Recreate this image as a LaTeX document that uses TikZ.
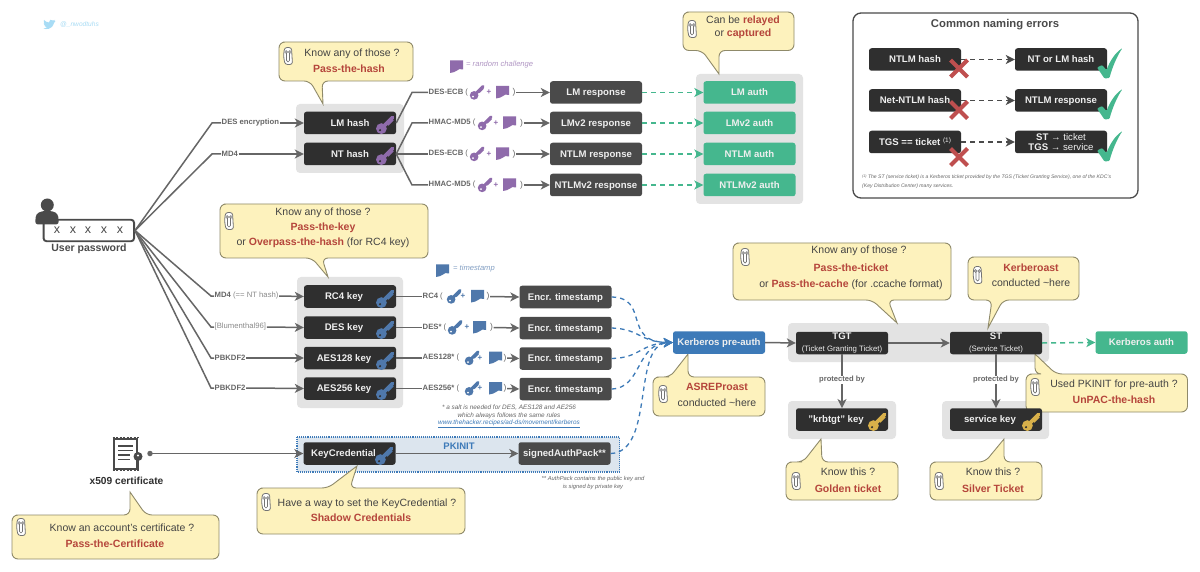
\documentclass[tikz,border=0pt]{standalone}
\usepackage{fontspec}
\setmainfont{Liberation Sans}
\usetikzlibrary{arrows.meta}
\definecolor{darkbox}{HTML}{2F2F2F}
\definecolor{respbox}{HTML}{4A4A4A}
\definecolor{panelg}{HTML}{E3E3E3}
\definecolor{linegray}{HTML}{666666}
\definecolor{bubfill}{HTML}{FDF2BD}
\definecolor{bubedge}{HTML}{8F8A6A}
\definecolor{redtx}{HTML}{B5453B}
\definecolor{bubtx}{HTML}{444444}
\definecolor{authgreen}{HTML}{45B78E}
\definecolor{krbblue}{HTML}{3D7AB8}
\definecolor{keyblue}{HTML}{4F78AB}
\definecolor{keypurple}{HTML}{8F6BAB}
\definecolor{keygold}{HTML}{D8B04A}
\definecolor{xred}{HTML}{BF4F4F}
\definecolor{lblgray}{HTML}{666666}
\definecolor{lbllight}{HTML}{8A8A8A}
\definecolor{boxtx}{HTML}{EFEFEF}
\definecolor{pkpanel}{HTML}{DCE5EE}
\definecolor{twblue}{HTML}{A8DCF5}
\newcommand{\fsz}[1]{\fontsize{#1}{#1}\selectfont}
\newcommand{\rd}[1]{{\color{redtx}\bfseries #1}}
\newcommand{\keyicon}[5]{\begin{scope}[shift={(#1,#2)},scale=#3]
  \draw[#4,line width=#3*3.8pt,line cap=round] (-3,3) -- (7.5,-7.5);
  \draw[#4,line width=#3*2.6pt] (2.4,-0.2) -- (7.8,-5.6);
  \fill[#4] (-3.6,3.6) circle[radius=5.4];
  \fill[#5] (-5,5.2) circle[radius=1.2];
\end{scope}}
\newcommand{\sqicon}[3]{\begin{scope}[shift={(#1,#2)}]
  \fill[#3] (0,0) -- (13,0) -- (13,9) .. controls (10,8) and (8.5,8.6) .. (7,10) .. controls (5.5,11.5) and (3,12) .. (0,12.5) -- cycle;
\end{scope}}
\newcommand{\clipicon}[2]{\begin{scope}[shift={(#1,#2)}]
  \draw[fill=white,draw=gray!90!black,line width=.8pt,rounded corners=2.5] (-3.5,-8.5) -- (3.5,-8.5) -- (4.5,8.5) -- (-3,8.5) -- (-4.5,0) -- cycle;
  \draw[gray!90!black,line width=.7pt,rounded corners=1.5] (-1.5,-3) -- (-1.5,6) -- (1.5,6) -- (1.5,-3);
  \fill[white,draw=gray!70!black,line width=.4pt] (-1.8,-4) circle[radius=1.5] (1.8,-4) circle[radius=1.5];
  \fill[black!70] (-1.8,-4) circle[radius=.6] (1.8,-4) circle[radius=.6];
\end{scope}}
\newcommand{\bubdown}[8]{\draw[bubble,rounded corners=6] (#1+10,#2) -- (#3,#2) -- (#3,#4) -- (#8,#4) [sharp corners] -- (#6,#7) [rounded corners=6] -- (#5,#4) -- (#1,#4) -- (#1,#2) -- cycle;}
\newcommand{\bubup}[8]{\draw[bubble,rounded corners=6] (#1+10,#2) -- (#5,#2) [sharp corners] -- (#6,#7) [rounded corners=6] -- (#8,#2) -- (#3,#2) -- (#3,#4) -- (#1,#4) -- (#1,#2) -- cycle;}
\newcommand{\xmark}[2]{\draw[xred,line width=4pt] (#1-8.5,#2-8.5) -- (#1+8.5,#2+8.5) (#1+8.5,#2-8.5) -- (#1-8.5,#2+8.5);}
\newcommand{\okmark}[2]{\begin{scope}[shift={(#1,#2)}]
 \fill[authgreen,rounded corners=1] (0,19.5) -- (5,17) -- (9.5,22) .. controls (13,13) and (18,5) .. (25.5,0) .. controls (20,8) and (15,20) .. (12.5,30) -- (7.5,30.5) -- cycle;
\end{scope}}
\tikzset{
  x=1pt,y=-1pt,
  panel/.style={fill=panelg,rounded corners=4},
  bubble/.style={fill=bubfill,draw=bubedge,line width=.9pt},
  bt/.style={text=bubtx,font=\fsz{10.5},inner sep=0pt,anchor=center,text height=7.5pt,text depth=0pt},
  basebox/.style={rounded corners=2.5,minimum width=92,minimum height=22.5,inner sep=0pt,align=center,text=boxtx,font=\fsz{9.6}\bfseries},
  oneline/.style={text height=6.9pt,text depth=0pt},
  darkb/.style={basebox,oneline,fill=darkbox},
  multib/.style={basebox,fill=darkbox},
  respb/.style={basebox,oneline,fill=respbox},
  authb/.style={basebox,oneline,fill=authgreen},
  krbb/.style={basebox,oneline,fill=krbblue},
  lbl/.style={text=lblgray,font=\fsz{7.7}\bfseries,inner sep=0.5pt,anchor=west},
  lbll/.style={text=lbllight,font=\fsz{7.7},inner sep=0.5pt,anchor=west},
  par/.style={text=lblgray,font=\fsz{8.5},inner sep=0.5pt},
  ln/.style={draw=linegray,line width=1.5pt},
  arr/.style={ln,-{Stealth[length=9pt,width=9pt,inset=2.5pt]}},
  garr/.style={draw=authgreen,line width=1.5pt,dash pattern=on 5pt off 4pt,-{Stealth[length=9pt,width=9pt,inset=2.5pt,fill=authgreen]}},
  barr/.style={draw=krbblue,line width=1.3pt,dash pattern=on 4.5pt off 4pt,-{Stealth[length=9pt,width=9pt,inset=2.5pt,fill=krbblue]}},
  karr/.style={draw=respbox,line width=1.5pt,dash pattern=on 5pt off 4pt,-{Stealth[length=9pt,width=9pt,inset=2.5pt,fill=respbox]}},
  note/.style={text=lblgray,font=\fsz{6.4}\itshape,inner sep=0pt},
}
\begin{document}
\begin{tikzpicture}
\useasboundingbox (0,0) rectangle (1200,572);
\fill[white] (0,0) rectangle (1200,572);

% twitter
\begin{scope}[shift={(43,19)}]
\fill[twblue] (0.5,9.5) .. controls (3,10.5) and (9,11) .. (11,4) -- (12.5,2) -- (11,2.3) -- (12,0.8) -- (10.3,1.5) .. controls (8.5,-0.3) and (5.5,1) .. (6,3.5) .. controls (4,3.4) and (2,2.2) .. (1,1) .. controls (0.3,2.5) and (1,4) .. (1.8,4.6) -- (0.7,4.3) .. controls (0.8,5.8) and (1.8,6.6) .. (2.8,6.9) -- (1.6,6.9) .. controls (2,8) and (3,8.5) .. (4,8.6) .. controls (3,9.3) and (1.7,9.7) .. (0.5,9.5) -- cycle;
\end{scope}
\node[text=twblue,font=\fsz{6.6}\itshape,anchor=west,inner sep=0pt] (tw) at (60,24.5) {@\_nwodtuhs};

% panels
\fill[panel] (296,104) rectangle (404,173);
\fill[panel] (696,74) rectangle (803,204);
\fill[panel] (297,277) rectangle (403,408);
\fill[panel] (788,323) rectangle (1049,362);
\fill[panel] (788,401) rectangle (896,439);
\fill[panel] (942,401) rectangle (1049,439);
\draw[fill=pkpanel,draw=krbblue,line width=1.1pt,densely dotted] (297,437) rectangle (619.5,472);

% common naming frame
\draw[draw=respbox,line width=1.3pt,rounded corners=8,fill=white] (853,13) rectangle (1138,198);

% bubbles
\bubdown{279}{42}{413}{81}{310}{323}{104}{322}
\bubdown{220}{204}{428}{258}{312}{328}{277}{322}
\bubdown{683}{12}{794}{50.5}{702}{719}{74}{719}
\bubdown{733}{243}{951}{300}{872}{897}{323}{888}
\bubdown{968}{257}{1079}{300}{992}{988}{328}{1003}
\bubup{653}{377}{765}{416}{670}{688}{354}{688}
\bubup{1026}{374}{1187.5}{412}{1035}{1035}{354}{1056}
\bubup{786}{462}{898}{500}{803}{821}{439}{822}
\bubup{930}{462}{1042}{500}{985}{1004}{439}{1004}
\bubup{12}{515}{219}{559}{130}{130}{492}{146}
\bubup{257}{488}{465}{534}{328}{357}{466}{350}

\clipicon{288}{56}
\clipicon{229}{221}
\clipicon{692}{29}
\clipicon{745}{257}
\clipicon{977.5}{275}
\clipicon{663}{394}
\clipicon{1035}{387}
\clipicon{796}{481}
\clipicon{939}{481}
\clipicon{21}{527}
\clipicon{266}{502}

\node[bt] (t1a) at (352,53) {Know any of those ?};
\node[bt] (t1b) at (349,69) {\rd{Pass-the-hash}};
\node[bt] (t2a) at (323,212) {Know any of those ?};
\node[bt] (t2b) at (323,227) {\rd{Pass-the-key}};
\node[bt] (t2c) at (323,242) {or \rd{Overpass-the-hash} (for RC4 key)};
\node[bt] (t3a) at (743,20) {Can be \rd{relayed}};
\node[bt] (t3b) at (743,33) {or \rd{captured}};
\node[bt] (t4a) at (859,250) {Know any of those ?};
\node[bt] (t4b) at (851,268) {\rd{Pass-the-ticket}};
\node[bt] (t4c) at (851,284) {or \rd{Pass-the-cache} (for .ccache format)};
\node[bt] (t5a) at (1031,268) {\rd{Kerberoast}};
\node[bt] (t5b) at (1031,283) {conducted \textasciitilde here};
\node[bt] (t6a) at (717,387) {\rd{ASREProast}};
\node[bt] (t6b) at (717,402.5) {conducted \textasciitilde here};
\node[bt] (t7a) at (1114,384) {Used PKINIT for pre-auth ?};
\node[bt] (t7b) at (1114,400) {\rd{UnPAC-the-hash}};
\node[bt] (t8a) at (848,472) {Know this ?};
\node[bt] (t8b) at (848,489) {\rd{Golden ticket}};
\node[bt] (t9a) at (993,472) {Know this ?};
\node[bt] (t9b) at (993,489) {\rd{Silver Ticket}};
\node[bt] (t10a) at (122,528) {Know an account's certificate ?};
\node[bt] (t10b) at (115,544) {\rd{Pass-the-Certificate}};
\node[bt] (t11a) at (367,503) {Have a way to set the KeyCredential ?};
\node[bt] (t11b) at (361,518) {\rd{Shadow Credentials}};

% user password
\fill[respbox] (47.3,205) circle[radius=6.5];
\node[draw=respbox,line width=1.9pt,fill=white,rounded corners=3,minimum width=90.5,minimum height=21.5,inner sep=0pt] (pw) at (88.8,230.5) {};
\fill[respbox,rounded corners=3] (35,224.5) -- (36,214) -- (42,211) -- (52.5,211) -- (58,214) -- (59,224.5) -- cycle;
\foreach \i/\xx in {1/57,2/73,3/88,4/104,5/120}{\node[text=respbox,font=\fsz{12.5},inner sep=0pt] (pwx\i) at (\xx,230) {x};}
\node[text=respbox,font=\fsz{10.5}\bfseries,inner sep=0pt] (pwl) at (89,249) {User password};

% hash boxes
\node[darkb] (lm) at (350,123) {LM hash};
\node[darkb] (nt) at (350,154) {NT hash};
\keyicon{385}{125}{1}{keypurple}{darkbox}
\keyicon{385}{156}{1}{keypurple}{darkbox}
\node[respb] (r1) at (596,92.5) {LM response};
\node[respb] (r2) at (596,123) {LMv2 response};
\node[respb] (r3) at (596,154) {NTLM response};
\node[respb] (r4) at (596,185) {NTLMv2 response};
\node[authb] (a1) at (749.5,92.5) {LM auth};
\node[authb] (a2) at (749.5,123) {LMv2 auth};
\node[authb] (a3) at (749.5,154) {NTLM auth};
\node[authb] (a4) at (749.5,185) {NTLMv2 auth};

% pw to hash
\node[lbl] (l1) at (221,123) {DES encryption};
\node[lbl] (l2) at (221,154) {MD4};
\coordinate (kn1) at (212,123);
\coordinate (kn2) at (212,154);
\draw[ln] (pw.east) -- (kn1) -- (l1.west);
\draw[ln] (pw.east) -- (kn2) -- (l2.west);
\draw[arr] (l1.east) -- (lm.west);
\draw[arr] (l2.east) -- (nt.west);

% NTLM rows
\sqicon{450}{60.5}{keypurple}
\node[text=keypurple!70,font=\fsz{7.6}\itshape,anchor=west,inner sep=0pt] (leg1) at (466,65) {= random challenge};
\node[lbl] (c1) at (428,92.5) {DES-ECB {\mdseries(}};
\node[lbl] (c2) at (428,123) {HMAC-MD5 {\mdseries(}};
\node[lbl] (c3) at (428,154) {DES-ECB {\mdseries(}};
\node[lbl] (c4) at (428,185) {HMAC-MD5 {\mdseries(}};
\coordinate (k1) at (412,92.5);
\coordinate (k2) at (412,123);
\coordinate (k3) at (412,154);
\coordinate (k4) at (412,185);
\draw[ln] (lm.east) -- (k1) -- (c1.west);
\draw[ln] (nt.east) -- (k2) -- (c2.west);
\draw[ln] (nt.east) -- (k3) -- (c3.west);
\draw[ln] (nt.east) -- (k4) -- (c4.west);
\foreach \yy/\kx/\px/\sx/\ex in {92.5/477/489/496/513,123/485/496/503/520,154/477/489/496/513,185/485/496/503/520}{
  \keyicon{\kx}{\yy}{.8}{keypurple}{white}
  \node[text=keypurple,font=\fsz{8}\bfseries,inner sep=0pt] at (\px,\yy) {+};
  \sqicon{\sx}{\yy-6.5}{keypurple}
}
\node[par] (p1) at (514,92.5) {)};
\node[par] (p2) at (521.5,123) {)};
\node[par] (p3) at (514,154) {)};
\node[par] (p4) at (521.5,185) {)};
\draw[arr] (p1.east) -- (r1.west);
\draw[arr] (p2.east) -- (r2.west);
\draw[arr] (p3.east) -- (r3.west);
\draw[arr] (p4.east) -- (r4.west);
\draw[garr] (r1.east) -- (a1.west);
\draw[garr] (r2.east) -- (a2.west);
\draw[garr] (r3.east) -- (a3.west);
\draw[garr] (r4.east) -- (a4.west);

% kerberos keys
\node[darkb] (rc4) at (350,296.5) {\hspace*{-12pt}RC4 key};
\node[darkb] (des) at (350,327.5) {\hspace*{-12pt}DES key};
\node[darkb] (a128) at (350,358) {\hspace*{-12pt}AES128 key};
\node[darkb] (a256) at (350,388.5) {\hspace*{-12pt}AES256 key};
\keyicon{385}{299}{1}{keyblue}{darkbox}
\keyicon{385}{330}{1}{keyblue}{darkbox}
\keyicon{385}{361}{1}{keyblue}{darkbox}
\keyicon{385}{391}{1}{keyblue}{darkbox}
\node[lbl,inner sep=0.5pt] (m1) at (214,296) {MD4 {\mdseries\color{lbllight}(== NT hash)}};
\node[lbll] (m2) at (214,327) {[Blumenthal96]};
\node[lbl] (m3) at (214,358) {PBKDF2};
\node[lbl] (m4) at (214,388) {PBKDF2};
\coordinate (q1) at (211,296);
\coordinate (q2) at (211,327);
\coordinate (q3) at (211,358);
\coordinate (q4) at (211,388);
\draw[ln] (pw.east) -- (q1) -- (m1.west);
\draw[ln] (pw.east) -- (q2) -- (m2.west);
\draw[ln] (pw.east) -- (q3) -- (m3.west);
\draw[ln] (pw.east) -- (q4) -- (m4.west);
\draw[arr] (m1.east) -- (rc4.west);
\draw[arr] (m2.east) -- (des.west);
\draw[arr] (m3.east) -- (a128.west);
\draw[arr] (m4.east) -- (a256.west);
\node[respb] (e1) at (565.5,297) {Encr. timestamp};
\node[respb] (e2) at (565.5,328) {Encr. timestamp};
\node[respb] (e3) at (565.5,358.5) {Encr. timestamp};
\node[respb] (e4) at (565.5,389) {Encr. timestamp};
\sqicon{436}{264.5}{keyblue}
\node[text=keyblue!70,font=\fsz{7.6}\itshape,anchor=west,inner sep=0pt] (leg2) at (453,269) {= timestamp};
\node[lbl] (d1) at (422,296.5) {RC4 {\mdseries(}};
\node[lbl] (d2) at (422,327.5) {DES* {\mdseries(}};
\node[lbl] (d3) at (422,358) {AES128* {\mdseries(}};
\node[lbl] (d4) at (422,388.5) {AES256* {\mdseries(}};
\draw[ln] (rc4.east) -- (d1.west);
\draw[ln] (des.east) -- (d2.west);
\draw[ln] (a128.east) -- (d3.west);
\draw[ln] (a256.east) -- (d4.west);
\foreach \yy/\kx/\px/\sx in {296.5/454/463/471,327.5/455/467/473,358/472/480/489,388.5/472/480/489}{
  \keyicon{\kx}{\yy}{.8}{keyblue}{white}
  \node[text=keyblue,font=\fsz{8}\bfseries,inner sep=0pt] at (\px,\yy) {+};
  \sqicon{\sx}{\yy-6.5}{keyblue}
}
\node[par] (f1) at (488,296.5) {)};
\node[par] (f2) at (491.5,327.5) {)};
\node[par] (f3) at (505,358) {)};
\node[par] (f4) at (505,388.5) {)};
\draw[arr] (f1.east) -- (e1.west);
\draw[arr] (f2.east) -- (e2.west);
\draw[arr] (f3.east) -- (e3.west);
\draw[arr] (f4.east) -- (e4.west);
\node[note] (n1) at (509,408) {* a salt is needed for DES, AES128 and AE256};
\node[note] (n2) at (509,415.5) {which always follows the same rules};
\node[note,text=krbblue] (n3) at (509,423.5) {\underline{www.thehacker.recipes/ad-ds/movement/kerberos}};

% PKINIT
\node[darkb] (kc) at (349.5,453.5) {\hspace*{-12pt}KeyCredential};
\keyicon{384}{456}{1}{keyblue}{darkbox}
\node[respb] (sap) at (564.5,453.5) {signedAuthPack**};
\node[text=krbblue,font=\fsz{9.5}\bfseries,inner sep=0pt] (pk) at (459,446) {PKINIT};
\draw[arr] (kc.east) -- (sap.west);
\node[note,font=\fsz{5.8}\itshape] (n4) at (593,479) {** AuthPack contains the public key and};
\node[note,font=\fsz{5.8}\itshape] (n5) at (593,487) {is signed by private key};

% certificate
\begin{scope}
\draw[respbox,line width=2pt,fill=white] (114,439) -- (137,439) -- (137,468.5) -- (114,468.5) -- cycle;
\draw[respbox,line width=1.2pt,dash pattern=on 2pt off 1.5pt] (112.5,437.5) -- (138.5,437.5) (112.5,470) -- (138.5,470);
\draw[respbox,line width=1.4pt] (118,446) -- (133,446) (118,450.5) -- (133,450.5) (118,455) -- (130,455) (118,459.5) -- (130,459.5);
\fill[respbox] (138,456.5) circle[radius=4.5];
\fill[white] (138,455.5) circle[radius=1.2];
\draw[respbox,line width=2.6pt] (138,459) -- (138,470);
\end{scope}
\node[text=darkbox,font=\fsz{10.2}\bfseries,inner sep=0pt] (x5) at (126.5,481) {x509 certificate};
\node[circle,fill=linegray,minimum size=5.5,inner sep=0pt] (cd) at (150,453.5) {};
\draw[arr] (cd.center) -- (kc.west);

% Kerberos flow
\node[krbb] (kb) at (719,342.5) {Kerberos pre-auth};
\node[multib] (tgt) at (842,343) {TGT\\[1.5pt]{\fsz{7.8}\mdseries (Ticket Granting Ticket)}};
\node[multib] (st) at (996,343) {ST\\[1.5pt]{\fsz{7.8}\mdseries (Service Ticket)}};
\node[authb] (ka) at (1141.5,342.5) {Kerberos auth};
\draw[arr] (kb.east) -- (tgt.west);
\draw[arr] (tgt.east) -- (st.west);
\draw[garr] (st.east) -- (ka.west);
\node[darkb] (kk) at (842,419.5) {\hspace*{-12pt}"krbtgt" key};
\node[darkb] (sk) at (996,419.5) {\hspace*{-12pt}service key};
\keyicon{877}{422}{1}{keygold}{darkbox}
\keyicon{1031}{422}{1}{keygold}{darkbox}
\node[lbl,anchor=center,font=\fsz{7.6}\bfseries] (pb1) at (842,380) {protected by};
\node[lbl,anchor=center,font=\fsz{7.6}\bfseries] (pb2) at (996,380) {protected by};
\draw[ln] (tgt.south) -- (pb1.north);
\draw[arr] (pb1.south) -- (kk.north);
\draw[ln] (st.south) -- (pb2.north);
\draw[arr] (pb2.south) -- (sk.north);
\draw[barr] (e1.east) .. controls (650,298) and (622,342) .. (kb.west);
\draw[barr] (e2.east) .. controls (640,329) and (640,342) .. (kb.west);
\draw[barr] (e3.east) .. controls (640,358) and (640,344) .. (kb.west);
\draw[barr] (e4.east) .. controls (642,388) and (636,344) .. (kb.west);
\draw[barr] (sap.east) .. controls (655,452) and (632,345) .. (kb.west);

% common naming errors
\node[text=respbox,font=\fsz{11.3}\bfseries,inner sep=0pt] (cn) at (995,24.5) {Common naming errors};
\node[darkb] (w1) at (915,59.5) {NTLM hash};
\node[darkb] (w2) at (915,100.5) {Net-NTLM hash};
\node[darkb] (w3) at (915,142) {TGS == ticket {\fsz{6.5}\mdseries\raisebox{3pt}{(1)}}};
\node[darkb] (g1) at (1061,59.5) {NT or LM hash};
\node[darkb] (g2) at (1061,100.5) {NTLM response};
\node[multib] (g3) at (1061,142) {ST → {\mdseries ticket}\\[.5pt]TGS → {\mdseries service}};
\draw[karr] (w1.east) -- (g1.west);
\draw[karr] (w2.east) -- (g2.west);
\draw[karr] (w3.east) -- (g3.west);
\xmark{959}{68.5}
\xmark{959}{110}
\xmark{959}{157}
\okmark{1097}{48}
\okmark{1097}{89}
\okmark{1097}{131}
\node[note,font=\fsz{5.1}\itshape,anchor=west] (fn1) at (862,177) {\raisebox{1.5pt}{\fsz{3.6}(1)} The ST (service ticket) is a Kerberos ticket provided by the TGS (Ticket Granting Service), one of the KDC's};
\node[note,font=\fsz{5.1}\itshape,anchor=west] (fn2) at (862,186) {(Key Distribution Center) many services.};
\end{tikzpicture}
\end{document}
